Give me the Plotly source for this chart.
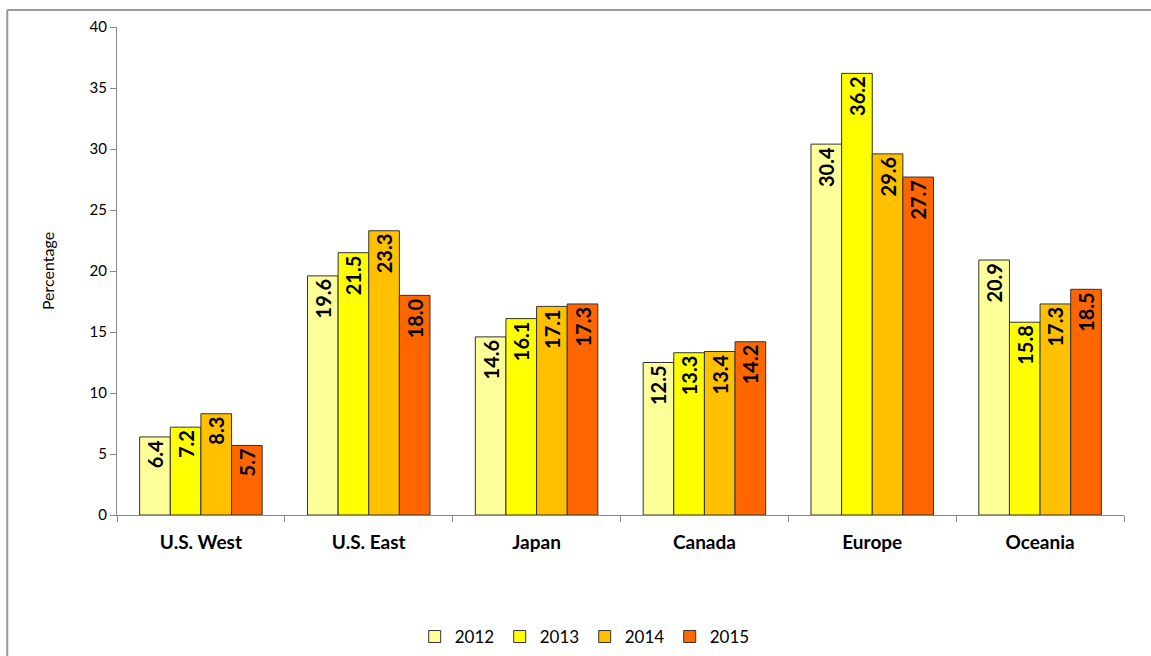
import plotly.graph_objects as go

regions = ["U.S. West", "U.S. East", "Japan", "Canada", "Europe", "Oceania"]
years = ["2012", "2013", "2014", "2015"]
v2012 = [6.4, 19.6, 14.6, 12.5, 30.4, 20.9]
v2013 = [7.2, 21.5, 16.1, 13.3, 36.2, 15.8]
v2014 = [8.3, 23.3, 17.1, 13.4, 29.6, 17.3]
v2015 = [5.7, 18.0, 17.3, 14.2, 27.7, 18.5]
series = [v2012, v2013, v2014, v2015]
colors = ["#FFFF99", "#FFFF00", "#FFC000", "#FF6600"]
y_ticks = [0, 5, 10, 15, 20, 25, 30, 35, 40]

FONT = "Lato, 'Open Sans', sans-serif"

fig = go.Figure()
for yr, vals, col in zip(years, series, colors):
    fig.add_trace(go.Bar(
        name=yr, x=regions, y=vals,
        marker=dict(color=col, line=dict(color="#333333", width=1)),
        text=[f"{v:.1f}" for v in vals],
        textposition="inside", insidetextanchor="end", textangle=-90,
        textfont=dict(family=FONT, size=20, color="black", weight="bold"),
        constraintext="none",
        cliponaxis=False,
    ))

fig.update_layout(
    barmode="group", bargap=0.27, bargroupgap=0,
    width=1151, height=656,
    margin=dict(l=117, r=27, t=27, b=141, autoexpand=False),
    paper_bgcolor="white", plot_bgcolor="white",
    font=dict(family=FONT, size=14, color="black"),
    legend=dict(orientation="h", x=0.508, xanchor="center", xref="container",
                y=0.029, yanchor="middle", yref="container",
                font=dict(size=17, family=FONT), itemwidth=30, traceorder="normal",
                entrywidth=40, entrywidthmode="pixels"),
    xaxis=dict(showline=True, linecolor="#888888", linewidth=1, ticks="outside",
               tickson="boundaries", ticklen=6, tickcolor="#888888",
               ticklabelstandoff=10,
               tickfont=dict(size=19, family=FONT, weight="bold"), showgrid=False),
    yaxis=dict(range=[0, 40], tickvals=y_ticks, showline=True, linecolor="#888888",
               linewidth=1, ticks="outside", ticklen=6, tickcolor="#888888",
               showgrid=False, zeroline=False, tickfont=dict(size=15, family=FONT),
               title=dict(text="Percentage", font=dict(size=16, family=FONT), standoff=30)),
)

# outer chart frame
fig.add_shape(type="line", xref="paper", yref="paper", x0=-0.109, x1=1.05, y0=1.0348, y1=1.0348,
              line=dict(color="#999999", width=2))
fig.add_shape(type="line", xref="paper", yref="paper", x0=-0.109, x1=-0.109, y0=1.0348, y1=-0.30,
              line=dict(color="#999999", width=2))

fig.write_html("out.html")
